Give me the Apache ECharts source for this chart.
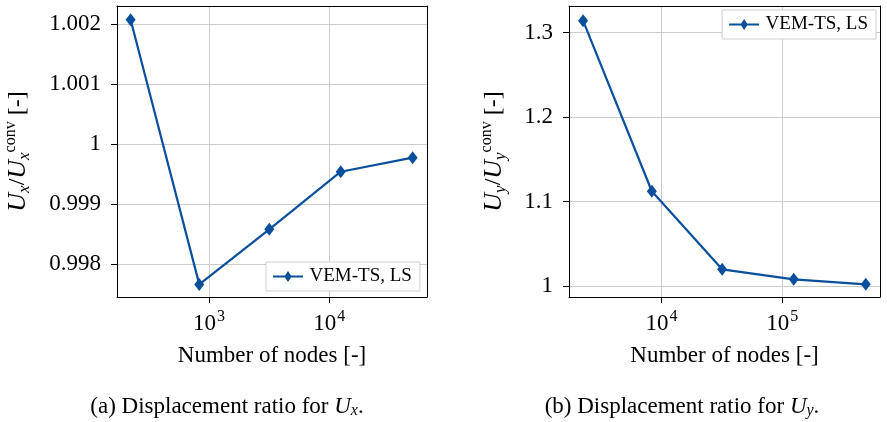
<!DOCTYPE html>
<html>
<head>
<meta charset="utf-8">
<script src="https://cdn.jsdelivr.net/npm/echarts@6/dist/echarts.min.js"></script>
<style>
  html, body { margin: 0; padding: 0; background: #fff; }
  #main { width: 887px; height: 422px; }
</style>
</head>
<body>
<div id="main"></div>
<script>
// number of nodes and displacement ratios
var nodesX = [223, 830, 3170, 12450, 49300];
var ratioX = [1.00207, 0.99766, 0.998578, 0.999538, 0.999772];

var nodesY = [2240, 8310, 31760, 124300, 491000];
var ratioY = [1.3142, 1.1122, 1.0198, 1.0079, 1.002];

var seriesName = 'VEM-TS, LS';
var xName = 'Number of nodes [-]';

var blue = '#0a4f9c';
var serif = '"Liberation Serif", "DejaVu Serif", serif';

var chart = echarts.init(document.getElementById('main'), null, { renderer: 'canvas' });

function isPow10(v) {
  var l = Math.log10(v);
  return Math.abs(l - Math.round(l)) < 1e-6;
}

function logLabel(v) {
  if (!isPow10(v)) return '';
  return '{b|10}{s|' + Math.round(Math.log10(v)) + '}';
}

function yLabel(step) {
  return function (v) {
    var k = v / step;
    if (Math.abs(k - Math.round(k)) > 1e-6) return '';
    return String(parseFloat(v.toFixed(4)));
  };
}

var tickRich = {
  b: { fontFamily: serif, fontSize: 23, color: '#000', verticalAlign: 'bottom', lineHeight: 26 },
  s: { fontFamily: serif, fontSize: 16, color: '#000', verticalAlign: 'top', lineHeight: 26, padding: [0, 0, 12, 1] }
};

function nameRich() {
  return {
    i: { fontFamily: serif, fontStyle: 'italic', fontSize: 26, color: '#000', lineHeight: 30 },
    n: { fontFamily: serif, fontSize: 24, color: '#000', lineHeight: 30 },
    sub: { fontFamily: serif, fontStyle: 'italic', fontSize: 17, color: '#000', lineHeight: 30, verticalAlign: 'bottom', padding: [10, 0, 0, 0] },
    sup: { fontFamily: serif, fontSize: 16, color: '#000', lineHeight: 30, verticalAlign: 'top', padding: [0, 0, 12, 0] }
  };
}

function xAxisOpt(idx, min, max) {
  return {
    type: 'log',
    logBase: 10,
    gridIndex: idx,
    min: min,
    max: max,
    name: xName,
    nameLocation: 'middle',
    nameGap: 47,
    nameTextStyle: { fontFamily: serif, fontSize: 23, color: '#000' },
    axisLine: { show: true, onZero: false, lineStyle: { color: '#000', width: 1 } },
    axisTick: { show: true, inside: false, length: 6, lineStyle: { color: '#000' } },
    axisLabel: { margin: 12, formatter: logLabel, rich: tickRich, showMinLabel: false, showMaxLabel: false },
    splitLine: { show: true, lineStyle: { color: '#cbcbcb', width: 1 } },
    minorTick: { show: false }
  };
}

// plain frame lines on top / right, drawn above the grid lines
function frameAxis(idx, pos) {
  return {
    type: 'value',
    gridIndex: idx,
    position: pos,
    z: 5,
    axisLine: { show: true, onZero: false, lineStyle: { color: '#000', width: 1 } },
    axisTick: { show: false },
    axisLabel: { show: false },
    splitLine: { show: false }
  };
}

function yAxisOpt(idx, min, max, step, nameText, gap) {
  return {
    type: 'value',
    gridIndex: idx,
    min: min,
    max: max,
    splitNumber: idx === 0 ? 5 : 4,
    name: nameText,
    nameLocation: 'middle',
    nameRotate: 90,
    nameGap: gap,
    nameTextStyle: { rich: nameRich() },
    axisLine: { show: true, lineStyle: { color: '#000', width: 1 } },
    axisTick: { show: true, inside: false, length: 6, lineStyle: { color: '#000' } },
    axisLabel: { margin: 16, fontFamily: serif, fontSize: 23, color: '#000', formatter: yLabel(step), showMinLabel: false, showMaxLabel: false },
    splitLine: { show: true, lineStyle: { color: '#cbcbcb', width: 1 } }
  };
}

function lineSeries(idx, xs, ys) {
  return {
    name: seriesName,
    type: 'line',
    xAxisIndex: idx,
    yAxisIndex: idx,
    data: xs.map(function (x, i) { return [x, ys[i]]; }),
    symbol: 'diamond',
    symbolSize: [10, 13],
    showAllSymbol: true,
    lineStyle: { color: blue, width: 2.2 },
    itemStyle: { color: blue },
    z: 4,
    animation: false,
    clip: false
  };
}

var legendStyle = {
  data: [seriesName],
  orient: 'horizontal',
  icon: 'path://M0,4.5 L12,4.5 L15,0 L18,4.5 L30,4.5 L30,6.5 L18,6.5 L15,11 L12,6.5 L0,6.5 Z',
  itemWidth: 33,
  itemHeight: 11,
  itemGap: 4,
  padding: [5, 8, 5, 7],
  backgroundColor: '#fff',
  borderColor: '#cfcfcf',
  borderWidth: 1,
  borderRadius: 0,
  textStyle: { fontFamily: serif, fontSize: 19, color: '#000', padding: [2, 0, 0, 0] }
};

var captionRich = {
  i: { fontFamily: serif, fontStyle: 'italic', fontSize: 23, color: '#000' },
  sub: { fontFamily: serif, fontStyle: 'italic', fontSize: 16, color: '#000', verticalAlign: 'bottom', padding: [8, 0, 0, 0] }
};

var option = {
  backgroundColor: '#fff',
  animation: false,
  title: [
    {
      text: '(a) Displacement ratio for {i|U}{sub|x}.',
      left: 222, top: 390, textAlign: 'center',
      textStyle: { fontFamily: serif, fontSize: 23, fontWeight: 'normal', color: '#000', rich: captionRich }
    },
    {
      text: '(b) Displacement ratio for {i|U}{sub|y}.',
      left: 677, top: 390, textAlign: 'center',
      textStyle: { fontFamily: serif, fontSize: 23, fontWeight: 'normal', color: '#000', rich: captionRich }
    }
  ],
  legend: [
    Object.assign({}, legendStyle, { left: 266, top: 262 }),
    Object.assign({}, legendStyle, { right: 11, top: 10 })
  ],
  grid: [
    { left: 117, top: 6, width: 310, height: 291, show: false },
    { left: 569, top: 6, width: 311, height: 291, show: false }
  ],
  xAxis: [
    xAxisOpt(0, 171.8, 64900),
    xAxisOpt(1, 1713, 644000),
    frameAxis(0, 'top'),
    frameAxis(1, 'top')
  ],
  yAxis: [
    yAxisOpt(0, 0.99745, 1.0023, 0.001, '{i|U}{sub|x}{n|/}{i|U}{sub|x}{sup|conv}{n| [-]}', 84),
    yAxisOpt(1, 0.987, 1.3316, 0.1, '{i|U}{sub|y}{n|/}{i|U}{sub|y}{sup|conv}{n| [-]}', 60),
    frameAxis(0, 'right'),
    frameAxis(1, 'right')
  ],
  series: [
    lineSeries(0, nodesX, ratioX),
    lineSeries(1, nodesY, ratioY)
  ]
};

chart.setOption(option);
</script>
</body>
</html>
